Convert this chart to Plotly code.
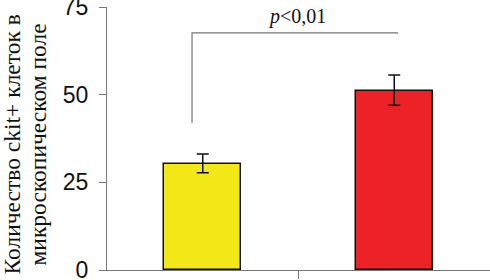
import plotly.graph_objects as go

# Data
groups = ["Группа 1", "Группа 2"]
values = [30.2, 51.1]
errors_plus = [2.9, 4.5]
errors_minus = [2.5, 4.1]
bar_colors = ["#F3E817", "#EC2227"]

y_ticks = [0, 25, 50, 75]

# significance bracket (data units)
bracket_x = [-0.056, -0.056, 1.02]
bracket_y = [41.9, 67.6, 67.6]
sig_label = "<i>p</i>&lt;0,01"
sig_x = 0.49
sig_y = 72.2

title_lines = ["Количество ckit+ клеток в", "микроскопическом поле"]

x_pos = list(range(len(groups)))

fig = go.Figure()
fig.add_trace(go.Bar(
    x=x_pos, y=values, width=0.4,
    marker=dict(color=bar_colors, line=dict(color="#111111", width=1.5)),
    error_y=dict(type="data", array=errors_plus, arrayminus=errors_minus,
                 color="#111111", thickness=1.5, width=6),
    showlegend=False, hoverinfo="skip",
))
fig.add_trace(go.Scatter(
    x=bracket_x, y=bracket_y, mode="lines",
    line=dict(color="#777777", width=1.2),
    showlegend=False, hoverinfo="skip",
))
fig.add_annotation(x=sig_x, y=sig_y, text=sig_label, showarrow=False,
                   font=dict(family="Liberation Serif", size=20, color="#111111"),
                   yanchor="middle", xanchor="center")

# y-axis title as two rotated lines
for shift, line in zip([-96, -70], title_lines):
    fig.add_annotation(xref="paper", yref="paper", x=0, y=0.5, xshift=shift, yshift=-6,
                       text=line, textangle=-90, showarrow=False,
                       xanchor="center", yanchor="middle",
                       font=dict(family="Liberation Serif", size=23.5, color="#111111"))

fig.update_layout(
    width=490, height=280,
    margin=dict(l=107, r=0, t=7, b=10, autoexpand=False),
    paper_bgcolor="white", plot_bgcolor="white",
    bargap=0,
)
fig.update_xaxes(
    range=[-0.5, 1.5], tickvals=[0.5], ticktext=[""],
    ticks="outside", ticklen=8, tickcolor="#777777", tickwidth=1,
    showline=True, linecolor="#777777", linewidth=1,
    showgrid=False, zeroline=False, automargin=False,
)
fig.update_yaxes(
    range=[0, 75], tickvals=y_ticks, ticktext=[str(t) for t in y_ticks],
    ticks="outside", ticklen=7, tickcolor="#777777", tickwidth=1,
    showline=True, linecolor="#777777", linewidth=1,
    showgrid=False, zeroline=False, automargin=False,
    tickfont=dict(family="Liberation Sans", size=23, color="#111111"),
    ticklabelstandoff=6, ticklabeloverflow="allow",
)

# remove the default 8px page margin so the figure fills the window
fig.write_html("out.html", config={"displayModeBar": False},
               post_script="document.body.style.margin='0';")
